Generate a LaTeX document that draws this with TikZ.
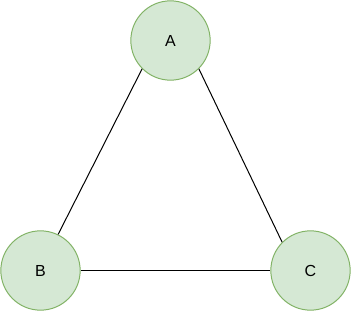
\documentclass[tikz,border=0pt]{standalone}
\usepackage{fontspec}
\setmainfont{Liberation Sans}
\usepackage{tikz}
\definecolor{vfill}{HTML}{D5E8D4}
\definecolor{vline}{HTML}{82B366}
\tikzset{vertex/.style={circle,draw=vline,fill=vfill,line width=0.75pt,minimum size=59.5pt,inner sep=0pt}}
\begin{document}
\begin{tikzpicture}[x=0.75pt,y=-0.75pt,font=\fontsize{12pt}{14pt}\selectfont,line width=0.75pt]
 \useasboundingbox (0,0) rectangle (351,311);
 \node[vertex] (A) at (170.5,40.5) {A};
 \node[vertex] (B) at (40.5,270.5) {B};
 \node[vertex] (C) at (310.5,270.5) {C};
 \draw (A.225) -- (B.64);
 \draw (A.315) -- (C.135);
 \draw (B) -- (C);
\end{tikzpicture}
\end{document}
